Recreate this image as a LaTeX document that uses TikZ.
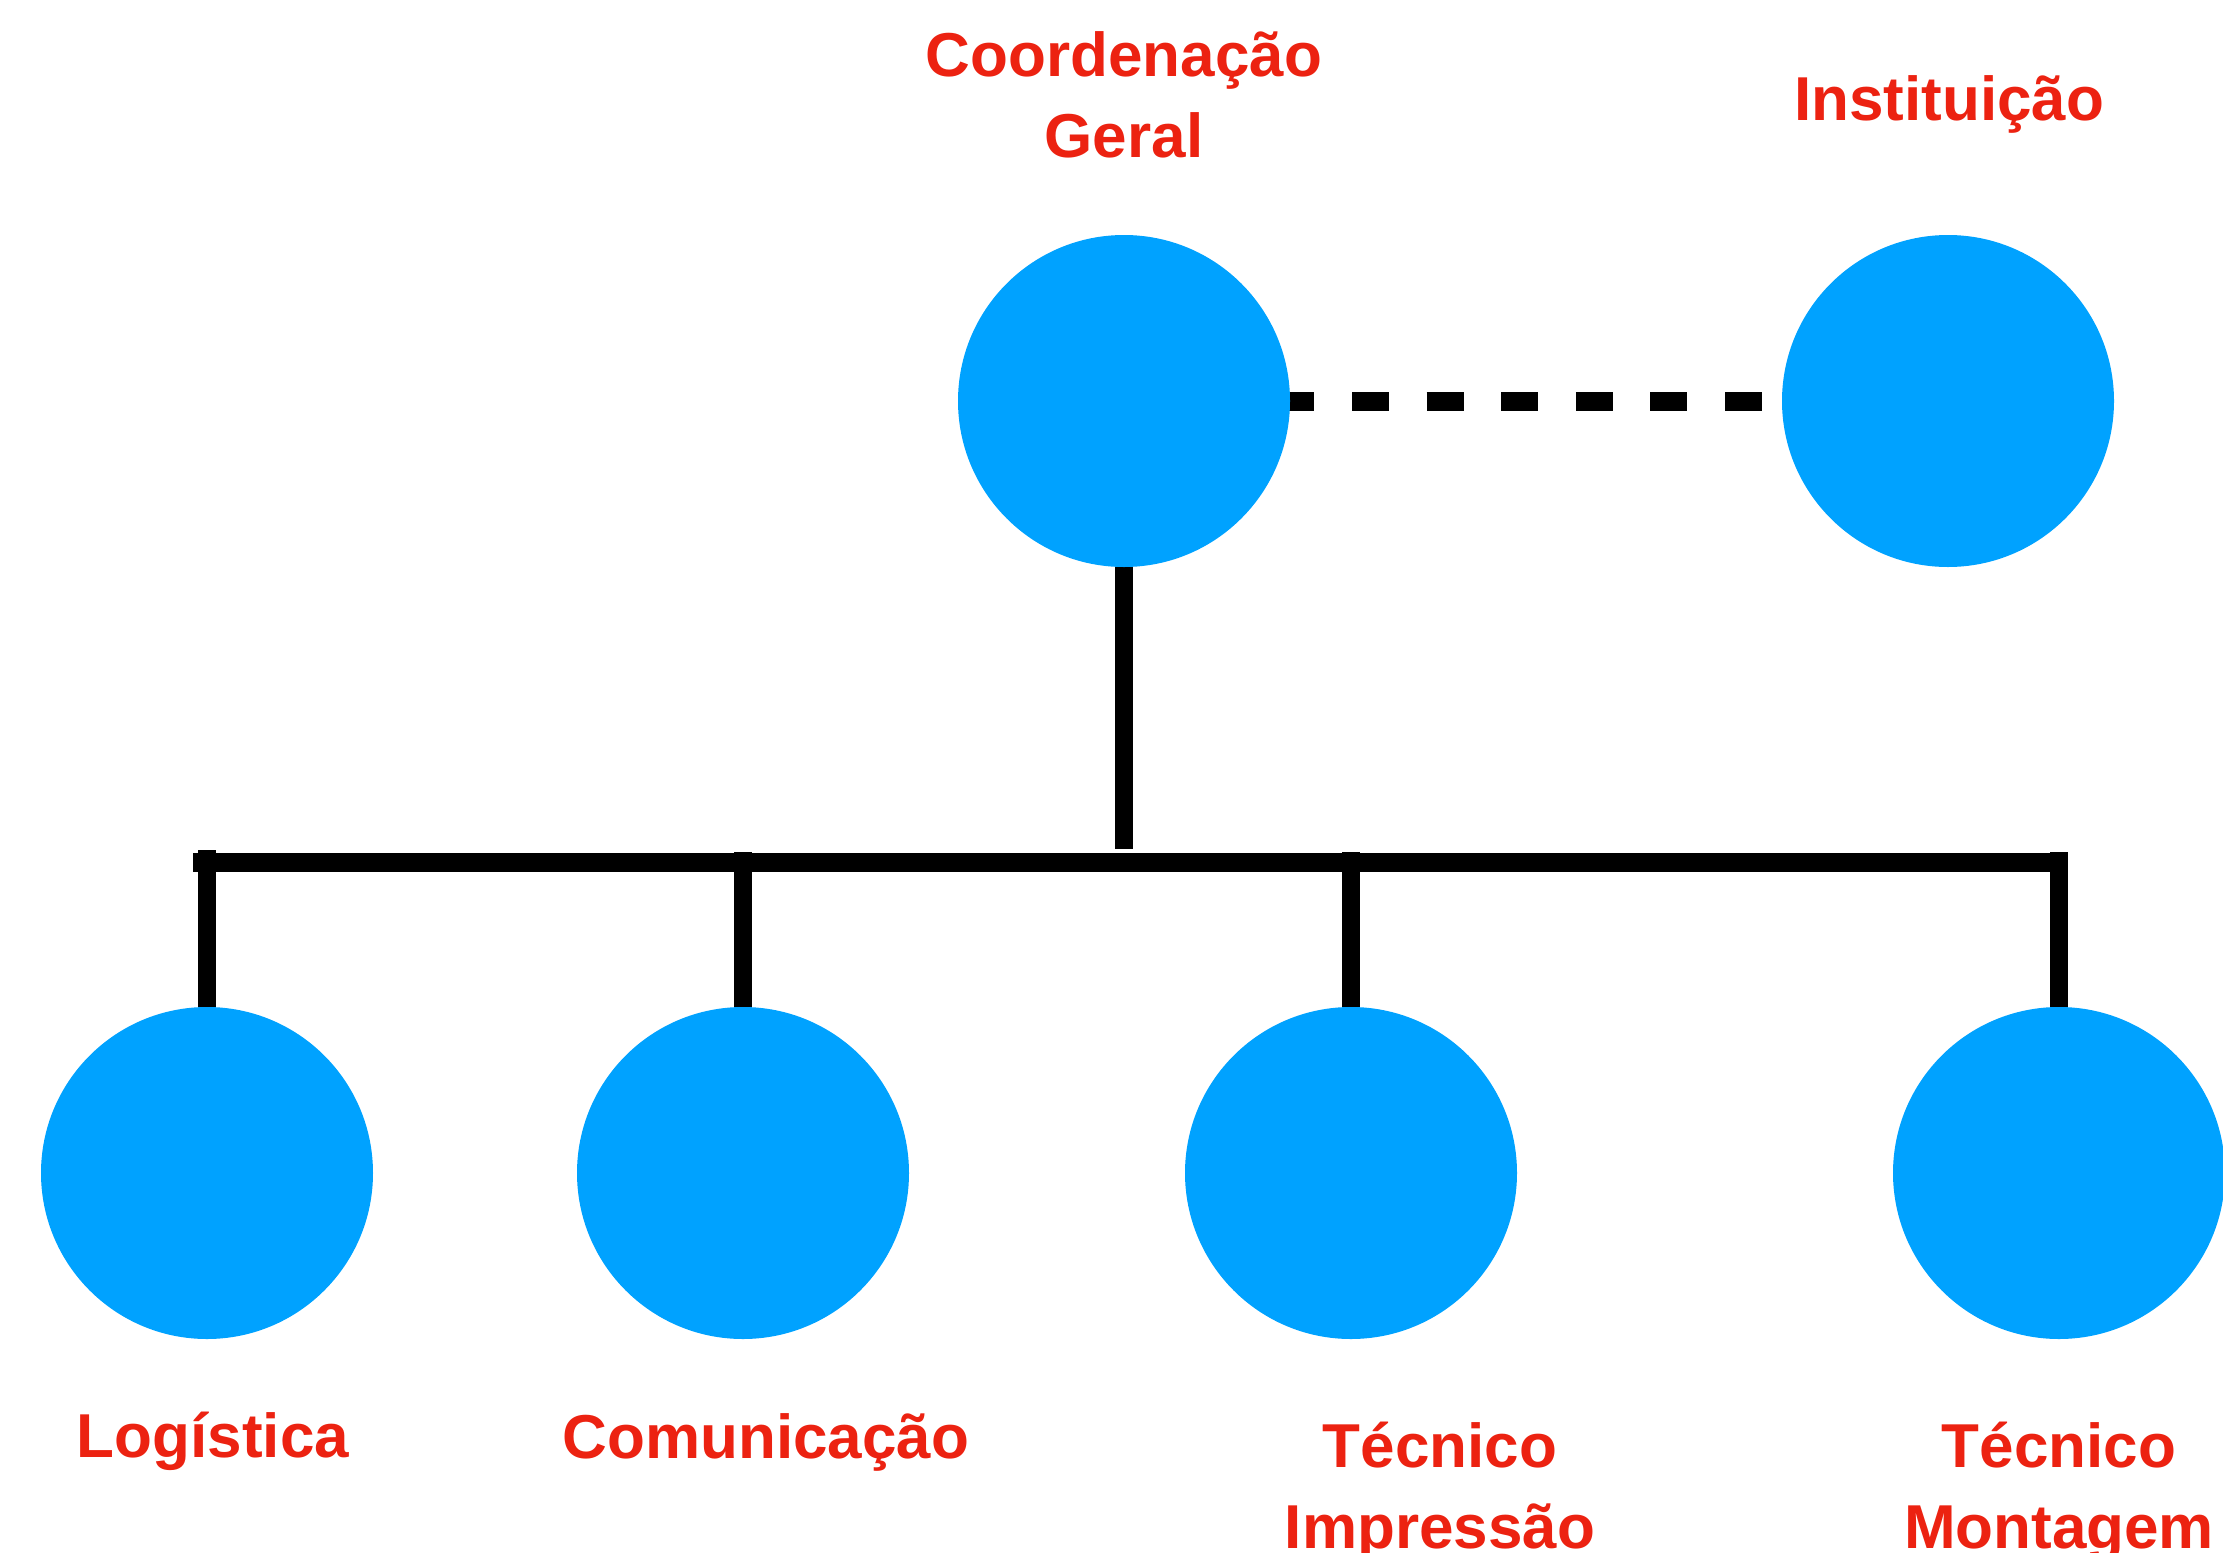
\documentclass[tikz,border=0pt]{standalone}
\usepackage{fontspec}
\setmainfont{Liberation Sans}
\usetikzlibrary{calc,backgrounds}
\definecolor{nodeblue}{RGB}{0,162,255}
\definecolor{labelred}{RGB}{236,34,17}
\begin{document}
\begin{tikzpicture}[x=0.5pt,y=-0.5pt,
  circ/.style={circle,fill=nodeblue,draw=none,minimum size=166pt,inner sep=0pt},
  lbl/.style={text=labelred,font=\fontsize{31}{40.5}\selectfont\bfseries,align=center,anchor=base,inner sep=0pt},
  link/.style={line width=9pt,line cap=butt,draw=black},
  buslink/.style={line width=9.5pt,line cap=butt,draw=black},
  dashlink/.style={line width=9.5pt,line cap=butt,draw=black,dash pattern=on 18.5pt off 18.8pt}]
\useasboundingbox (0,0) rectangle (2223,1553);
% circles
\node[circ] (coord) at (1124,401) {};
\node[circ] (inst) at (1948,401) {};
\node[circ] (log) at (207,1173) {};
\node[circ] (com) at (743,1173) {};
\node[circ] (imp) at (1351,1173) {};
\node[circ] (mon) at (2059,1173) {};
% connectors
\begin{scope}[on background layer]
\coordinate (trunkEnd) at (1124,849);
\coordinate (busL) at (193,862.5);
\coordinate (busR) at (2068,862.5);
\draw[link] (coord.south) -- (trunkEnd);
\draw[buslink] (busL) -- (busR);
\draw[link] (log.north) -- (log.north |- 0,850);
\draw[link] (com.north) -- (com.north |- 0,852);
\draw[link] (imp.north) -- (imp.north |- 0,852);
\draw[link] (mon.north) -- (mon.north |- 0,852);
\draw[dashlink] ($(coord.east)+(-13,0)$) -- ($(inst.west)+(-20,0)$);
\end{scope}
% labels
\node[lbl] (coordLbl) at (1124,157) {Coordenação\\Geral};
\node[lbl] (instLbl) at (1949,120) {Instituição};
\node[lbl] (logLbl) at (213,1457) {Logística};
\node[lbl] (comLbl) at (766,1458) {Comunicação};
\node[lbl] (impLbl) at (1440,1548) {Técnico\\Impressão};
\node[lbl] (monLbl) at (2059,1548) {Técnico\\Montagem};
\end{tikzpicture}
\end{document}
